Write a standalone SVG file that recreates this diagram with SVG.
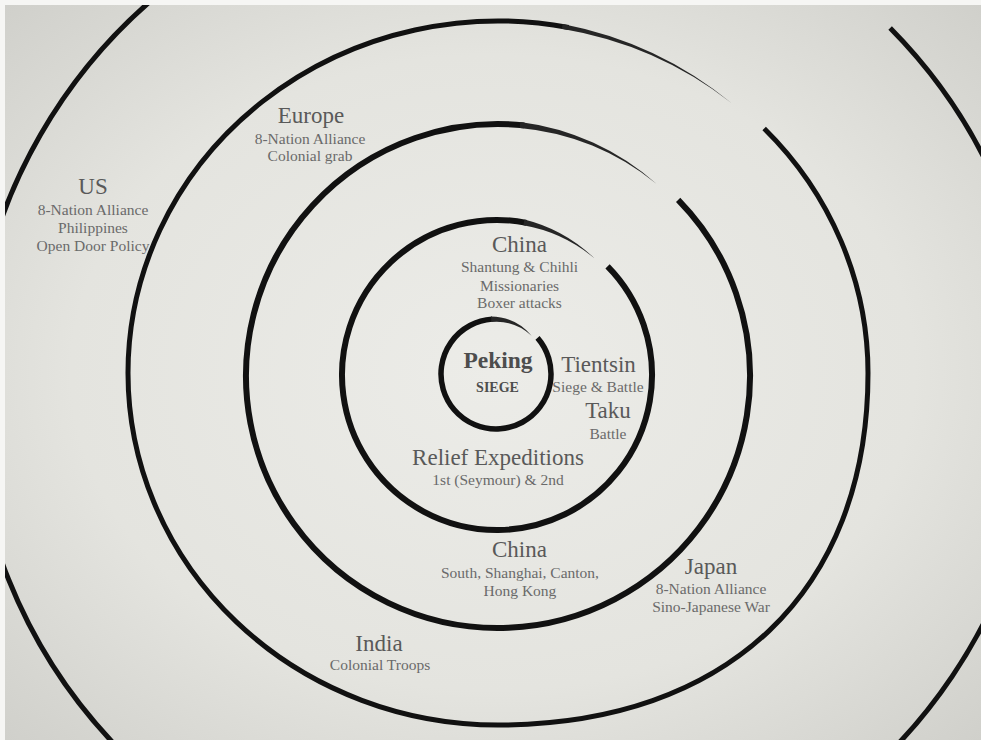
<svg xmlns="http://www.w3.org/2000/svg" width="981" height="740" viewBox="0 0 981 740">
<style>
.t{font-family:"Liberation Serif","Times New Roman",serif;font-size:23px;fill:#595959;text-anchor:middle}
.s{font-family:"Liberation Serif","Times New Roman",serif;font-size:15.5px;fill:#6a6a6a;text-anchor:middle}
.b{font-family:"Liberation Serif","Times New Roman",serif;font-weight:bold;fill:#4d4d4d;text-anchor:middle}
.ring{fill:none;stroke:#111;stroke-linecap:butt}
.tap{fill:#262626;stroke:none}
</style>
<defs>
<radialGradient id="bg" cx="0.5" cy="0.5" r="0.72">
<stop offset="0" stop-color="#ececE8"/>
<stop offset="0.6" stop-color="#e4e4df"/>
<stop offset="1" stop-color="#cfcfca"/>
</radialGradient>
<clipPath id="clip"><rect x="5" y="5" width="976" height="735"/></clipPath>
</defs>
<rect width="981" height="740" fill="#f6f6f4"/>
<rect x="5" y="5" width="976" height="735" fill="url(#bg)"/>
<g id="rings" clip-path="url(#clip)">
<g id="ring1">
<path class="ring" stroke-width="5.5" d="M 537.51 337.91 A 55 55 0 1 1 492.16 319.13"/>
<path class="tap" d="M 491.45 321.95 A 52.25 52.25 0 0 1 531.63 335.79 A 55 55 0 0 0 490.97 316.47 Z"/>
</g>
<g id="ring2">
<path class="ring" stroke-width="6" d="M 607.55 266.36 A 155 155 0 1 1 526.58 222.85"/>
<path class="tap" d="M 523.39 225.31 A 152 152 0 0 1 594.70 258.56 A 155 155 0 0 0 524.44 219.40 Z"/>
</g>
<g id="ring3">
<path class="ring" stroke-width="6" d="M 678.15 199.79 A 252 252 0 1 1 524.34 125.38"/>
<path class="tap" d="M 519.70 127.95 A 249 249 0 0 1 656.38 183.87 A 252 252 0 0 0 520.23 121.97 Z"/>
</g>
<g id="ring4">
<path class="ring" stroke-width="5" d="M 764.16 128.48 A 370 352 0 0 1 868 373 C 868 591.2 727.4 725 498 725 A 370 352 0 0 1 128 373 A 370 352 0 0 1 568.60 27.47"/>
<path class="tap" d="M 561.82 28.81 A 367.5 349.5 0 0 1 731.76 103.32 A 370 352 0 0 0 562.68 23.88 Z"/>
</g>
<g id="ring5">
<path class="ring" stroke-width="5" d="M 890.13 28.08 A 534 521 0 1 1 413.27 -123.08"/>
</g>
</g>
<g id="labels">
<g id="us">
<text class="t" x="93" y="194">US</text>
<text class="s" x="93" y="215">8-Nation Alliance</text>
<text class="s" x="93" y="233">Philippines</text>
<text class="s" x="93" y="251">Open Door Policy</text>
</g>
<g id="europe">
<text class="t" x="311" y="123">Europe</text>
<text class="s" x="310" y="144">8-Nation Alliance</text>
<text class="s" x="310" y="161">Colonial grab</text>
</g>
<g id="china-north">
<text class="t" x="519.5" y="252">China</text>
<text class="s" x="519.5" y="272">Shantung &amp; Chihli</text>
<text class="s" x="519.5" y="290.5">Missionaries</text>
<text class="s" x="519.5" y="308">Boxer attacks</text>
</g>
<g id="peking">
<text class="b" x="498" y="368" font-size="23.5">Peking</text>
<text class="b" x="497.5" y="392" font-size="14">SIEGE</text>
</g>
<g id="tientsin">
<text class="t" x="598.5" y="371.5">Tientsin</text>
<text class="s" x="598" y="391.5">Siege &amp; Battle</text>
</g>
<g id="taku">
<text class="t" x="608" y="418">Taku</text>
<text class="s" x="608" y="439">Battle</text>
</g>
<g id="relief">
<text class="t" x="498" y="465">Relief Expeditions</text>
<text class="s" x="498" y="485">1st (Seymour) &amp; 2nd</text>
</g>
<g id="china-south">
<text class="t" x="519.5" y="557">China</text>
<text class="s" x="520" y="578">South, Shanghai, Canton,</text>
<text class="s" x="520" y="596">Hong Kong</text>
</g>
<g id="japan">
<text class="t" x="711" y="574">Japan</text>
<text class="s" x="711" y="594">8-Nation Alliance</text>
<text class="s" x="711" y="611.5">Sino-Japanese War</text>
</g>
<g id="india">
<text class="t" x="379" y="651">India</text>
<text class="s" x="380" y="670">Colonial Troops</text>
</g>
</g>
</svg>
